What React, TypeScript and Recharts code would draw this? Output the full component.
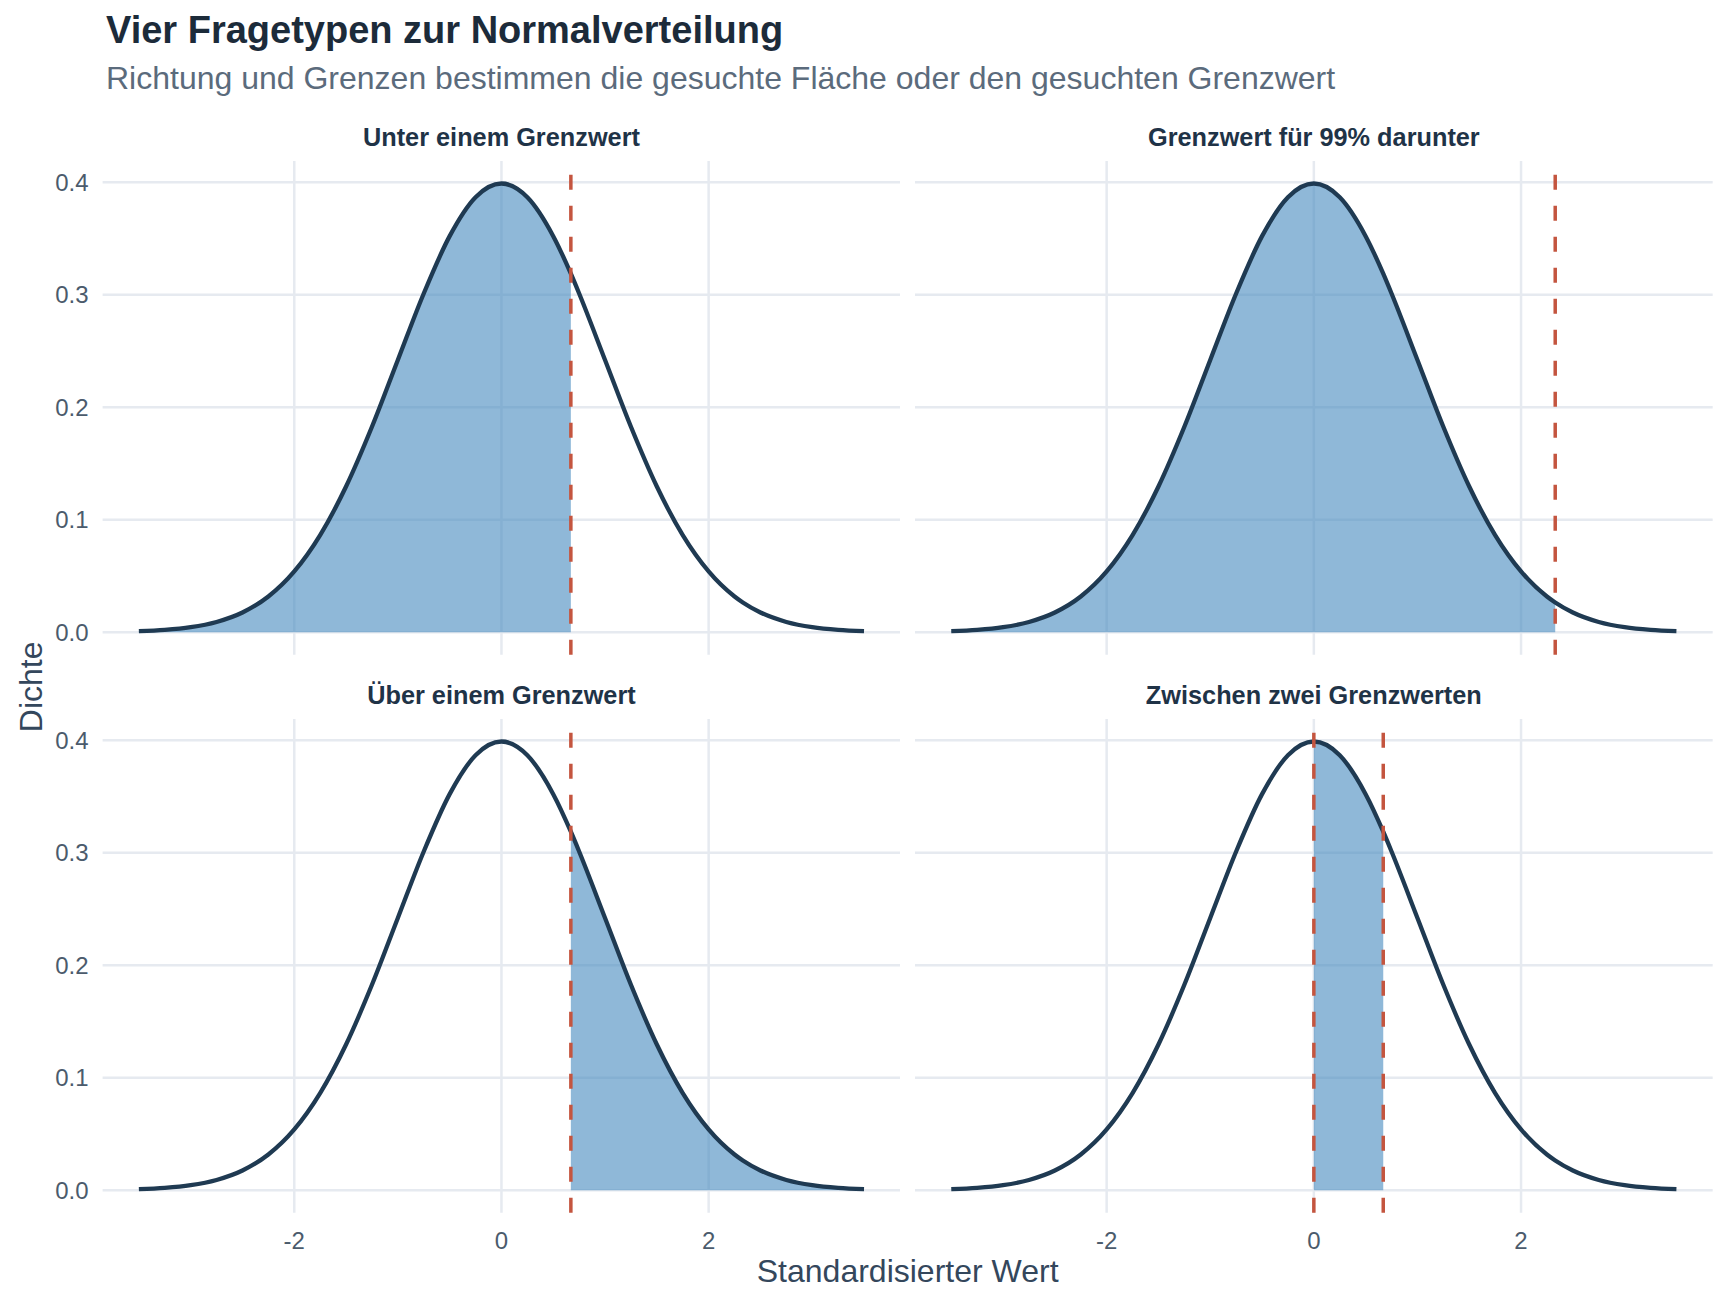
import React from "react";
import {
  ComposedChart,
  Area,
  Line,
  XAxis,
  YAxis,
  ReferenceLine,
} from "recharts";

// Standardised values and the density
const xValues = [
  -3.5, -3.25, -3, -2.75, -2.5, -2.25, -2, -1.75, -1.5, -1.25, -1, -0.75, -0.5, -0.25,
  0, 0.25, 0.5, 0.67, 0.75, 1, 1.25, 1.5, 1.75, 2, 2.25, 2.33, 2.5, 2.75, 3, 3.25, 3.5,
];
const densityValues = [
  0.0009, 0.002, 0.0044, 0.0091, 0.0175, 0.0317, 0.054, 0.0863, 0.1295, 0.1826, 0.242, 0.3011, 0.3521, 0.3867,
  0.3989, 0.3867, 0.3521, 0.3187, 0.3011, 0.242, 0.1826, 0.1295, 0.0863, 0.054, 0.0317, 0.0264, 0.0175, 0.0091, 0.0044, 0.002, 0.0009,
];

// One entry per facet, in reading order
const panelTitles = [
  "Unter einem Grenzwert",
  "Grenzwert für 99% darunter",
  "Über einem Grenzwert",
  "Zwischen zwei Grenzwerten",
];
const shadeFrom = [-3.5, -3.5, 0.67, 0];
const shadeTo = [0.67, 2.33, 3.5, 0.67];
const cutoffs = [[0.67], [2.33], [0.67], [0, 0.67]];

const xTicks = [-2, 0, 2];
const yTicks = [0, 0.1, 0.2, 0.3, 0.4];

const FONT = "'Liberation Sans', Arial, Helvetica, sans-serif";
const GRID = "#e6eaf0";
const PANEL_W = 797.7;
const PANEL_H = 493.7;
const AXIS_W = 102.6;
const X_AXIS_H = 60;
const COL_X = [0, 915];
const ROW_Y = [161, 719];

const buildData = (i: number) =>
  xValues.map((x, k) => ({
    x,
    d: densityValues[k],
    s: x >= shadeFrom[i] - 1e-9 && x <= shadeTo[i] + 1e-9 ? densityValues[k] : null,
  }));

// shared axes; the front layer keeps the same space but draws no labels
const axes = (showX: boolean, showY: boolean, labels: boolean) => {
  const tickStyle = { fontSize: 24, fill: "#4b5b6c", fontFamily: FONT };
  return [
    <XAxis
      key="x"
      dataKey="x"
      type="number"
      domain={[-3.85, 3.85]}
      ticks={xTicks}
      allowDataOverflow
      hide={!showX}
      height={X_AXIS_H}
      axisLine={false}
      tickLine={false}
      tickSize={6}
      tickMargin={13}
      tick={labels ? tickStyle : false}
    />,
    <YAxis
      key="y"
      type="number"
      domain={[-0.02, 0.4189]}
      ticks={yTicks}
      allowDataOverflow
      hide={!showY}
      width={AXIS_W}
      axisLine={false}
      tickLine={false}
      tickSize={6}
      tickMargin={8}
      tick={labels ? tickStyle : false}
      tickFormatter={(v: number) => v.toFixed(1)}
    />,
  ];
};

function Panel({ index }: { index: number }) {
  const col = index % 2;
  const row = Math.floor(index / 2);
  const showY = col === 0;
  const showX = row === 1;
  const width = PANEL_W + (showY ? AXIS_W : 0);
  const height = PANEL_H + (showX ? X_AXIS_H : 0);
  const data = buildData(index);
  const margin = { top: 0, right: 0, bottom: 0, left: 0 };
  const layer: React.CSSProperties = { position: "absolute", left: 0, top: 0 };

  return (
    <div style={{ position: "absolute", left: COL_X[col], top: ROW_Y[row], width, height }}>
      {/* back layer: tick labels and major grid */}
      <div style={layer}>
        <ComposedChart width={width} height={height} data={data} margin={margin}>
          {axes(showX, showY, true)}
          {yTicks.map((t) => (
            <ReferenceLine key={`gy${t}`} y={t} stroke={GRID} strokeWidth={2.5} />
          ))}
          {xTicks.map((t) => (
            <ReferenceLine key={`gx${t}`} x={t} stroke={GRID} strokeWidth={2.5} />
          ))}
        </ComposedChart>
      </div>
      {/* front layer: shaded area, density curve, cut-off lines */}
      <div style={layer}>
        <ComposedChart width={width} height={height} data={data} margin={margin}>
          {axes(showX, showY, false)}
          <Area
            type="monotone"
            dataKey="s"
            stroke="none"
            fill="#4489be"
            fillOpacity={0.6}
            baseValue={0}
            isAnimationActive={false}
          />
          <Line
            type="monotone"
            dataKey="d"
            stroke="#1f3a52"
            strokeWidth={4.3}
            dot={false}
            activeDot={false}
            strokeLinejoin="round"
            isAnimationActive={false}
          />
          {cutoffs[index].map((c) => (
            <ReferenceLine
              key={`c${c}`}
              x={c}
              stroke="#c4553f"
              strokeWidth={3.5}
              strokeDasharray="15 16"
            />
          ))}
        </ComposedChart>
      </div>
    </div>
  );
}

export default function App() {
  const panelCenters = [AXIS_W + PANEL_W / 2, COL_X[1] + PANEL_W / 2];
  const stripBaselines = [145.7, 703.7];
  const plotLeft = AXIS_W;
  const plotRight = COL_X[1] + PANEL_W;

  return (
    <div
      style={{
        position: "absolute",
        left: 0,
        top: 0,
        width: 1728,
        height: 1305,
        background: "#ffffff",
        fontFamily: FONT,
      }}
    >
      {panelTitles.map((_, i) => (
        <Panel key={i} index={i} />
      ))}
      <svg
        width={1728}
        height={1305}
        style={{ position: "absolute", left: 0, top: 0, pointerEvents: "none" }}
      >
        <text x={106} y={42.7} fontSize={38} fontWeight="bold" fill="#1c2b3a" fontFamily={FONT}>
          Vier Fragetypen zur Normalverteilung
        </text>
        <text x={106} y={89.3} fontSize={32} fill="#5b6b7c" fontFamily={FONT}>
          Richtung und Grenzen bestimmen die gesuchte Fläche oder den gesuchten Grenzwert
        </text>
        {panelTitles.map((t, i) => (
          <text
            key={t}
            x={panelCenters[i % 2]}
            y={stripBaselines[Math.floor(i / 2)]}
            fontSize={25.3}
            fontWeight="bold"
            fill="#1f3347"
            textAnchor="middle"
            fontFamily={FONT}
          >
            {t}
          </text>
        ))}
        <text
          x={(plotLeft + plotRight) / 2}
          y={1282.3}
          fontSize={32}
          fill="#34475c"
          textAnchor="middle"
          fontFamily={FONT}
        >
          Standardisierter Wert
        </text>
        <text
          x={0}
          y={0}
          transform={`translate(41.7, ${(ROW_Y[0] + ROW_Y[1] + PANEL_H) / 2}) rotate(-90)`}
          fontSize={32}
          fill="#34475c"
          textAnchor="middle"
          fontFamily={FONT}
        >
          Dichte
        </text>
      </svg>
    </div>
  );
}
